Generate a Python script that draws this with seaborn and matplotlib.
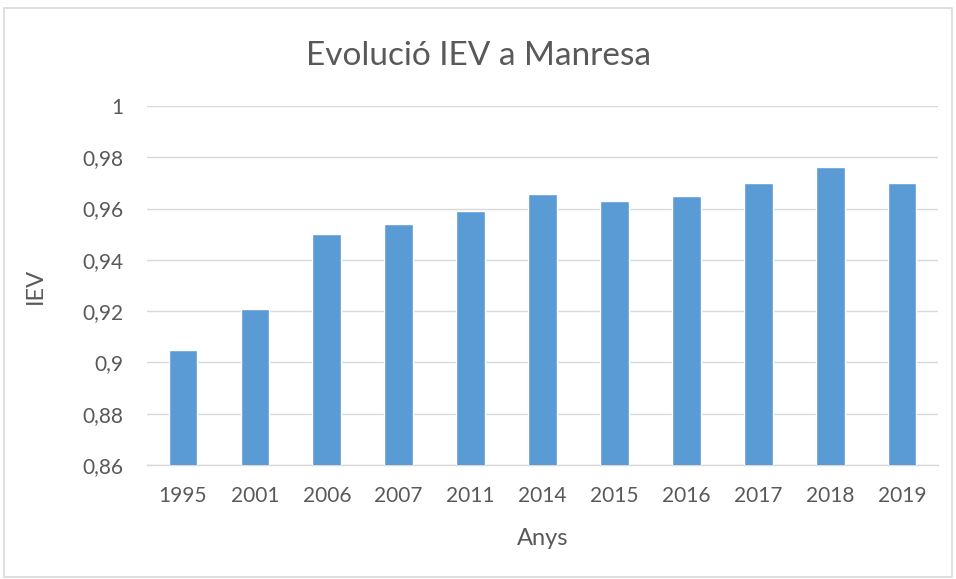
import numpy as np
import pandas as pd
import seaborn as sns
import matplotlib.pyplot as plt
from matplotlib.patches import Rectangle
from matplotlib.ticker import FuncFormatter

# data
anys = ['1995', '2001', '2006', '2007', '2011', '2014', '2015', '2016', '2017', '2018', '2019']
iev = [0.905, 0.921, 0.950, 0.954, 0.959, 0.9655, 0.963, 0.965, 0.970, 0.976, 0.970]
y_ticks = [0.86, 0.88, 0.90, 0.92, 0.94, 0.96, 0.98, 1.0]

df = pd.DataFrame({'Anys': anys, 'IEV': iev})

sns.set_style('white')
plt.rcParams['font.family'] = ['Lato', 'DejaVu Sans']
grey = '#595959'

fig = plt.figure(figsize=(9.56, 5.79), dpi=100)
ax = fig.add_axes([0.1538, 0.197, 0.8274, 0.62])

sns.barplot(data=df, x='Anys', y='IEV', order=anys, color='#5B9BD5',
            width=0.4, saturation=1, ax=ax, zorder=3)

ax.set_ylim(0.86, 1.0)
ax.set_yticks(y_ticks)
ax.yaxis.set_major_formatter(FuncFormatter(lambda v, p: f'{v:.2f}'.rstrip('0').rstrip('.').replace('.', ',')))
ax.set_xlim(-0.5, len(anys) - 0.5)

ax.grid(axis='y', color='#d9d9d9', linewidth=1, zorder=0)
ax.set_axisbelow(True)
for s in ['top', 'right', 'left']:
    ax.spines[s].set_visible(False)
ax.spines['bottom'].set_color('#d9d9d9')
ax.spines['bottom'].set_linewidth(1)

ax.tick_params(axis='x', length=0, labelsize=15, colors=grey, pad=15)
ax.tick_params(axis='y', length=0, labelsize=15, colors=grey, pad=17)
ax.set_xlabel('Anys', fontsize=17, color=grey, labelpad=16)
ax.set_ylabel('IEV', fontsize=17, color=grey, labelpad=26)

fig.suptitle('Evolució IEV a Manresa', fontsize=24, color=grey, y=0.93)

# outer chart border
fig.patches.append(Rectangle((4 / 956, 2 / 579), 948 / 956, 569 / 579, transform=fig.transFigure,
                             fill=False, edgecolor='#d9d9d9', linewidth=1.2))

fig.savefig('out.png', dpi=100)
